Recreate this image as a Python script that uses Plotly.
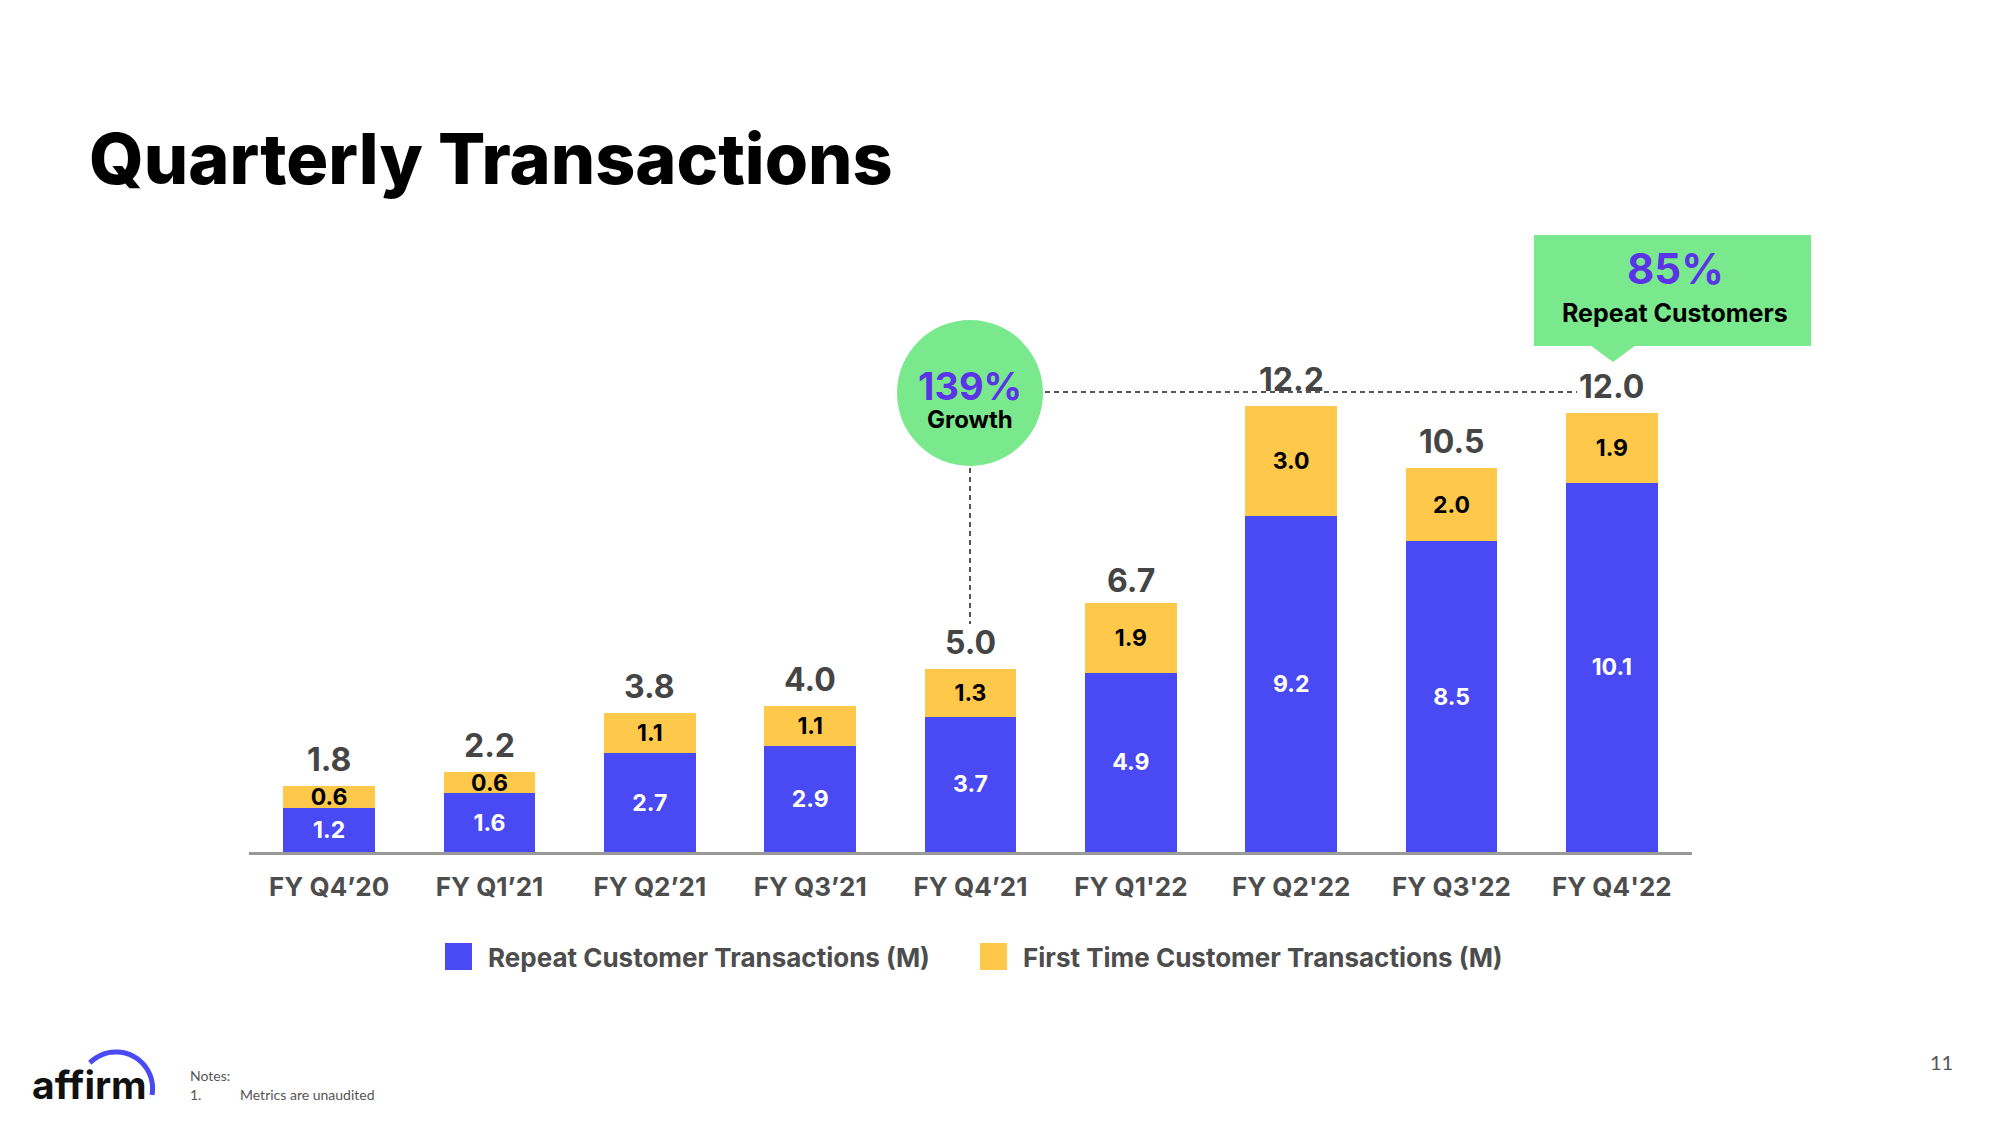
import math
import plotly.graph_objects as go

# ---------------- data ----------------
quarters = ["FY Q4’20", "FY Q1’21", "FY Q2’21", "FY Q3’21", "FY Q4’21",
            "FY Q1'22", "FY Q2'22", "FY Q3'22", "FY Q4'22"]
repeat_txn = [1.2, 1.6, 2.7, 2.9, 3.7, 4.9, 9.2, 8.5, 10.1]
first_txn = [0.6, 0.6, 1.1, 1.1, 1.3, 1.9, 3.0, 2.0, 1.9]
totals = [1.8, 2.2, 3.8, 4.0, 5.0, 6.7, 12.2, 10.5, 12.0]
series_names = ["Repeat Customer Transactions (M)", "First Time Customer Transactions (M)"]

# ---------------- style ----------------
W, H = 2000, 1125
L, R, B, T = 249, 1692, 852, 340       # plot area in pixels
YMAX = 14
BLUE = "#4a4af4"
YELLOW = "#fec84a"
GREEN = "#7ae88c"
PURPLE = "#5b34e8"
GREY_TXT = "#454545"
FONT = "Inter"


def px(x):
    return (x - L) / (R - L)


def py(y):
    return (B - y) / (B - T)


fig = go.Figure()
fig.add_trace(go.Bar(
    x=quarters, y=repeat_txn, name=series_names[0], marker_color=BLUE,
    marker_line_width=0, width=0.57,
    text=[f"{v:.1f}" for v in repeat_txn], textposition="inside",
    insidetextanchor="middle", constraintext="none",
    textfont=dict(family=FONT, size=23, color="white", weight="bold"),
    hoverinfo="skip"))
fig.add_trace(go.Bar(
    x=quarters, y=first_txn, name=series_names[1], marker_color=YELLOW,
    marker_line_width=0, width=0.57,
    text=[f"{v:.1f}" for v in first_txn], textposition="inside",
    insidetextanchor="middle", constraintext="none",
    textfont=dict(family=FONT, size=23, color="black", weight="bold"),
    hoverinfo="skip"))

shapes = []
annotations = []

# totals above each stacked bar
for q, t in zip(quarters, totals):
    annotations.append(dict(xref="x", yref="y", x=q, y=t, text=f"{t:.1f}",
                            xanchor="center", yanchor="bottom", yshift=5, showarrow=False,
                            font=dict(family=FONT, size=32, color=GREY_TXT, weight="bold")))

# legend (drawn manually for large swatches)
shapes.append(dict(type="rect", xref="paper", yref="paper", x0=px(445), x1=px(472),
                   y0=py(970), y1=py(943), fillcolor=BLUE, line_width=0))
shapes.append(dict(type="rect", xref="paper", yref="paper", x0=px(980), x1=px(1007),
                   y0=py(970), y1=py(943), fillcolor=YELLOW, line_width=0))
annotations.append(dict(xref="paper", yref="paper", x=px(486), y=py(957), text=series_names[0],
                        xanchor="left", yanchor="middle", showarrow=False,
                        font=dict(family=FONT, size=26, color="#4d4d4d", weight="bold")))
annotations.append(dict(xref="paper", yref="paper", x=px(1021), y=py(957), text=series_names[1],
                        xanchor="left", yanchor="middle", showarrow=False,
                        font=dict(family=FONT, size=26, color="#4d4d4d", weight="bold")))

# title
annotations.append(dict(xref="paper", yref="paper", x=px(87), y=py(158), text="Quarterly Transactions",
                        xanchor="left", yanchor="middle", showarrow=False,
                        font=dict(family=FONT, size=70, color="black", weight=800)))

# growth bubble
shapes.append(dict(type="circle", xref="paper", yref="paper", x0=px(897), x1=px(1043),
                   y0=py(466), y1=py(320), fillcolor=GREEN, line_width=0, layer="below"))
shapes.append(dict(type="line", xref="paper", yref="paper", x0=px(970), x1=px(970),
                   y0=py(468), y1=py(624), line=dict(color="#555555", width=2, dash="5px,4px")))
shapes.append(dict(type="line", xref="paper", yref="paper", x0=px(1045), x1=px(1577),
                   y0=py(392), y1=py(392), line=dict(color="#555555", width=2, dash="5px,4px")))
annotations.append(dict(xref="paper", yref="paper", x=px(970), y=py(386), text="139%",
                        showarrow=False, xanchor="center", yanchor="middle",
                        font=dict(family=FONT, size=38, color=PURPLE, weight="bold")))
annotations.append(dict(xref="paper", yref="paper", x=px(970), y=py(419), text="Growth",
                        showarrow=False, xanchor="center", yanchor="middle",
                        font=dict(family=FONT, size=24, color="black", weight="bold")))

# repeat customers callout
shapes.append(dict(type="rect", xref="paper", yref="paper", x0=px(1534), x1=px(1811),
                   y0=py(346), y1=py(235), fillcolor=GREEN, line_width=0, layer="below"))
shapes.append(dict(type="path", xref="paper", yref="paper",
                   path=f"M {px(1590)},{py(345)} L {px(1636)},{py(345)} L {px(1613)},{py(362)} Z",
                   fillcolor=GREEN, line_width=0, layer="below"))
annotations.append(dict(xref="paper", yref="paper", x=px(1675), y=py(268), text="85%",
                        showarrow=False, xanchor="center", yanchor="middle",
                        font=dict(family=FONT, size=42, color=PURPLE, weight="bold")))
annotations.append(dict(xref="paper", yref="paper", x=px(1675), y=py(313), text="Repeat Customers",
                        showarrow=False, xanchor="center", yanchor="middle",
                        font=dict(family=FONT, size=25, color="black", weight="bold")))

# footer: logo, notes, page number
annotations.append(dict(xref="paper", yref="paper", x=px(30), y=py(1084), text="affirm",
                        showarrow=False, xanchor="left", yanchor="middle",
                        font=dict(family=FONT, size=39, color="#111111", weight="bold")))
cx, cy, rr = 116, 1088.5, 36.6
a0 = math.atan2(-(1063 - cy), 90 - cx)
a1 = math.atan2(-(1095 - cy), 152 - cx)
pts = []
n = 30
for i in range(n + 1):
    a = a0 + (a1 - a0) * i / n
    pts.append((px(cx + rr * math.cos(a)), py(cy - rr * math.sin(a))))
arc = "M " + " L ".join(f"{x},{y}" for x, y in pts)
shapes.append(dict(type="path", xref="paper", yref="paper", path=arc,
                   line=dict(color=BLUE, width=5)))
annotations.append(dict(xref="paper", yref="paper", x=px(188), y=py(1075), text="Notes:",
                        showarrow=False, xanchor="left", yanchor="middle",
                        font=dict(family="Lato", size=14, color="#555555")))
annotations.append(dict(xref="paper", yref="paper", x=px(188), y=py(1094), text="1.",
                        showarrow=False, xanchor="left", yanchor="middle",
                        font=dict(family="Lato", size=14, color="#555555")))
annotations.append(dict(xref="paper", yref="paper", x=px(238), y=py(1094), text="Metrics are unaudited",
                        showarrow=False, xanchor="left", yanchor="middle",
                        font=dict(family="Lato", size=14, color="#555555")))
annotations.append(dict(xref="paper", yref="paper", x=px(1941), y=py(1062), text="11",
                        showarrow=False, xanchor="center", yanchor="middle",
                        font=dict(family="Lato", size=20, color="#555555")))

fig.update_layout(
    width=W, height=H, barmode="stack", showlegend=False,
    margin=dict(l=L, r=W - R, t=T, b=H - B, pad=0),
    paper_bgcolor="white", plot_bgcolor="white",
    shapes=shapes, annotations=annotations,
    xaxis=dict(showgrid=False, showline=True, linecolor="#999999", linewidth=3,
               ticks="", ticklabelstandoff=10, zeroline=False,
               tickfont=dict(family=FONT, size=26, color="#4d4d4d", weight="bold")),
    yaxis=dict(range=[0, YMAX], visible=False, showgrid=False, zeroline=False),
)

fig.write_html("out.html", config={"displayModeBar": False},
               post_script="document.body.style.margin='0';document.body.style.overflow='hidden';")
